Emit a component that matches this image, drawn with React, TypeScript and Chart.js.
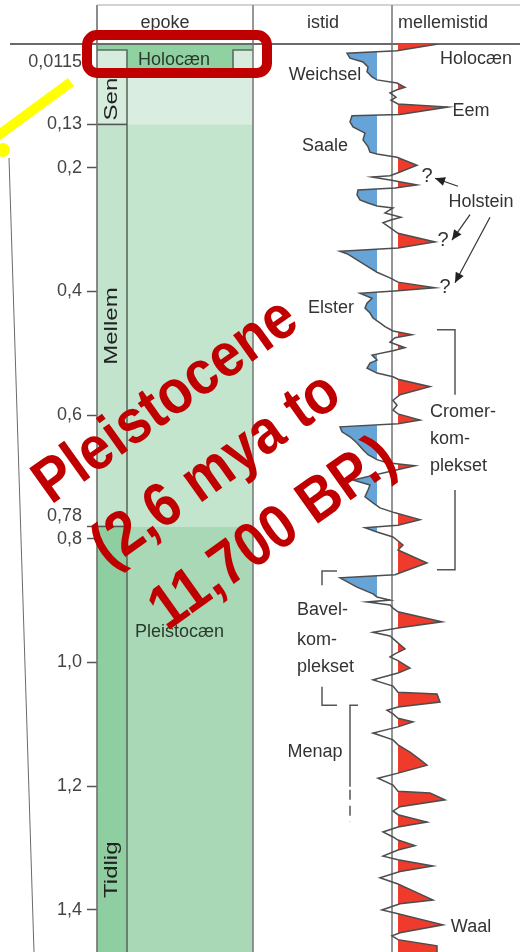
import React, { useEffect, useRef } from 'react';
import { Chart, registerables } from 'chart.js';

Chart.register(...registerables);

const FONT = '"Liberation Sans", Arial, Helvetica, sans-serif';
const OVERLAY_FONT = '"Liberation Sans", Arial, sans-serif';

// ---------------- data ----------------
// time in million years (Ma), climate index (negative = cold / istid, positive = warm / mellemistid)
const curveTime = [
  0.000, 0.011, 0.015, 0.023, 0.029, 0.037, 0.045, 0.053, 0.058, 0.063,
  0.070, 0.074, 0.079, 0.086, 0.091, 0.097, 0.102, 0.114, 0.116, 0.126,
  0.134, 0.144, 0.155, 0.166, 0.175, 0.178, 0.183, 0.196, 0.207, 0.213,
  0.215, 0.220, 0.228, 0.233, 0.236, 0.244, 0.252, 0.257, 0.262, 0.265,
  0.273, 0.280, 0.285, 0.289, 0.297, 0.306, 0.320, 0.330, 0.335, 0.339,
  0.349, 0.359, 0.369, 0.378, 0.385, 0.394, 0.399, 0.403, 0.411, 0.419,
  0.427, 0.435, 0.443, 0.451, 0.457, 0.464, 0.470, 0.475, 0.482, 0.491,
  0.496, 0.503, 0.511, 0.516, 0.524, 0.532, 0.538, 0.542, 0.554, 0.567,
  0.576, 0.584, 0.592, 0.598, 0.608, 0.614, 0.619, 0.627, 0.635, 0.645,
  0.656, 0.664, 0.672, 0.677, 0.682, 0.689, 0.705, 0.713, 0.721, 0.732,
  0.742, 0.750, 0.758, 0.769, 0.778, 0.782, 0.789, 0.797, 0.810, 0.818,
  0.839, 0.852, 0.858, 0.863, 0.878, 0.889, 0.894, 0.899, 0.902, 0.907,
  0.912, 0.918, 0.934, 0.944, 0.951, 0.957, 0.967, 0.978, 0.986, 0.991,
  0.997, 1.009, 1.017, 1.028, 1.038, 1.048, 1.051, 1.064, 1.072, 1.077,
  1.083, 1.090, 1.096, 1.104, 1.114, 1.125, 1.133, 1.145, 1.157, 1.166,
  1.178, 1.187, 1.198, 1.208, 1.211, 1.222, 1.233, 1.240, 1.246, 1.258,
  1.266, 1.274, 1.282, 1.287, 1.296, 1.303, 1.313, 1.319, 1.329, 1.338,
  1.348, 1.358, 1.372, 1.384, 1.390, 1.400, 1.406, 1.424, 1.437, 1.442,
  1.448, 1.458, 1.468,
];
const curveValue = [
  4.6, 0.5, -4.5, -4.2, -2.9, -2.4, -2.5, -2.0, -1.5, 0.5,
  1.3, 0.5, -0.2, 0.4, -0.1, 0.6, 5.6, 0.8, -4.0, -4.2,
  -3.9, -2.7, -2.9, -2.4, -2.2, -1.5, 0.5, 2.5, 0.8, -0.2,
  -2.0, -0.2, 2.5, 0.3, -3.4, -3.5, -3.2, -2.4, -1.5, 0.1,
  -0.7, 0.9, -0.2, -0.9, -0.2, 0.6, 4.3, 0.6, -5.2, -4.5,
  -3.5, -2.5, -1.5, -0.2, 0.6, 4.3, 0.6, -3.2, -2.0, -2.5,
  -2.7, -2.2, -1.9, -1.2, -0.7, 0.1, 2.0, 0.3, -0.2, 1.3,
  0.1, -2.0, -1.5, -2.2, -2.5, -1.5, 0.1, 0.6, 3.8, 0.8,
  0.1, 0.5, 0.1, 0.6, 2.8, 0.6, -5.2, -5.0, -4.2, -3.5,
  -2.9, -2.4, -1.5, -0.5, 2.3, 0.3, -3.9, -2.2, -2.4, -2.7,
  -1.9, -1.2, 0.3, 2.8, 0.6, -2.7, -1.5, 0.1, 1.1, 0.6,
  3.5, 1.3, 0.3, -5.2, -3.5, -1.9, -1.5, -0.2, -2.5, -0.2,
  0.1, 0.6, 5.0, 0.6, -1.9, -0.2, 0.5, 1.3, 0.3, -0.2,
  0.6, 1.8, 0.6, -1.9, 0.1, 0.6, 4.5, 4.8, 0.6, -0.5,
  0.1, 0.6, 2.1, 0.6, -1.9, 0.1, 0.6, 1.8, 2.8, 3.5,
  0.8, -1.4, 0.1, 0.6, 3.8, 5.3, 0.8, 0.1, 0.6, 3.5,
  0.6, -0.9, 0.1, 0.6, 2.3, 0.6, -0.9, 0.6, 4.1, 0.8,
  -1.2, 0.6, 2.5, 4.1, 0.8, -1.0, 0.6, 5.1, 0.8, 0.0,
  0.6, 4.5, 4.5,
];
const WARM_LIMIT = 0.6;
const COLD_LIMIT = -1.5;

const tickValues = [0.0115, 0.13, 0.2, 0.4, 0.6, 0.78, 0.8, 1.0, 1.2, 1.4];
const tickLabels = ['0,0115', '0,13', '0,2', '0,4', '0,6', '0,78', '0,8', '1,0', '1,2', '1,4'];

const unitNames = ['Holocæn', 'Sen', 'Mellem', 'Tidlig'];
const unitTop = [0, 0.05, 0.13, 0.78];
const unitBottom = [0.05, 0.13, 0.78, 2.58];
const subLabelTimes = [0.089, 0.456, 1.335];
const epochName = 'Pleistocæn';
const epochNameTime = 0.951;

const headerLabels = ['epoke', 'istid', 'mellemistid'];

const stageNames = ['Holocæn', 'Weichsel', 'Eem', 'Saale', 'Holstein', 'Elster', 'Menap', 'Waal'];
const stageTimes = [0.024, 0.05, 0.108, 0.165, 0.255, 0.427, 1.145, 1.427];
const questionTimes = [0.215, 0.317, 0.393];

const cromerLines = ['Cromer-', 'kom-', 'plekset'];
const cromerLineTimes = [0.595, 0.639, 0.682];
const cromerSpan = [0.462, 0.85];
const bavelLines = ['Bavel-', 'kom-', 'plekset'];
const bavelLineTimes = [0.915, 0.963, 1.007];
const bavelSpan = [0.852, 1.069];
const menapSpan = [1.069, 1.201, 1.258];

const overlayLines = ['Pleistocene', '(2,6 mya to', '11,700 BP.)'];

// ---------------- layout (positions in axis units, not data) ----------------
const L = {
  xMin: -29.5,
  xMax: 12.8,
  subCol: [-29.5, -26.5],
  epochCol: [-26.5, -13.9],
  insetRight: -15.9,
  subLabelX: -28.0,
  holoLabelX: -21.8,
  epochLabelX: -25.7,
  headerX: [-22.7, -6.9, 5.1],
  stageX: [8.4, -6.7, 7.9, -6.7, 8.9, -6.1, -7.7, 7.9],
  questionX: [3.5, 5.1, 5.3],
  arrows: [
    [6.6, 0.23, 4.3, 0.217],
    [7.8, 0.276, 6.0, 0.317],
    [9.8, 0.28, 6.3, 0.386],
  ],
  cromerTextX: 3.8,
  cromerBracket: [4.5, 6.3],
  cromerGap: [0.567, 0.721],
  bavelTextX: -9.5,
  bavelBracket: [-7.0, -5.5],
  bavelGap: [0.875, 1.039],
  menapX: [-4.2, -3.4],
};

const subFill = ['#8fd1a1', '#d6ecdc', '#c3e4cc', '#8fcea0'];
const epochFill = ['#8fd1a1', '#d9eee1', '#c3e5cd', '#a8d8b5'];

function buildClamped(limit: number, above: boolean) {
  const out: { x: number; y: number }[] = [];
  for (let i = 0; i < curveTime.length; i++) {
    const t = curveTime[i];
    const v = curveValue[i];
    if (i > 0) {
      const pt = curveTime[i - 1];
      const pv = curveValue[i - 1];
      if ((pv - limit) * (v - limit) < 0) {
        const f = (limit - pv) / (v - pv);
        out.push({ x: limit, y: pt + f * (t - pt) });
      }
    }
    out.push({ x: above ? Math.max(v, limit) : Math.min(v, limit), y: t });
  }
  return out;
}

function stroke(ctx: CanvasRenderingContext2D, pts: number[][], color: string, width: number, dash?: number[]) {
  ctx.save();
  ctx.strokeStyle = color;
  ctx.lineWidth = width;
  if (dash) ctx.setLineDash(dash);
  ctx.beginPath();
  pts.forEach((p, i) => (i ? ctx.lineTo(p[0], p[1]) : ctx.moveTo(p[0], p[1])));
  ctx.stroke();
  ctx.restore();
}

function text(ctx: CanvasRenderingContext2D, s: string, x: number, y: number, size = 18, align: CanvasTextAlign = 'center', color = '#333') {
  ctx.save();
  ctx.font = `${size}px ${FONT}`;
  ctx.fillStyle = color;
  ctx.textAlign = align;
  ctx.textBaseline = 'middle';
  ctx.fillText(s, x, y);
  ctx.restore();
}

function arrow(ctx: CanvasRenderingContext2D, x1: number, y1: number, x2: number, y2: number) {
  stroke(ctx, [[x1, y1], [x2, y2]], '#333', 1.2);
  const a = Math.atan2(y2 - y1, x2 - x1);
  const len = 10;
  const half = 4.5;
  ctx.save();
  ctx.fillStyle = '#222';
  ctx.beginPath();
  ctx.moveTo(x2, y2);
  ctx.lineTo(x2 - len * Math.cos(a) + half * Math.sin(a), y2 - len * Math.sin(a) - half * Math.cos(a));
  ctx.lineTo(x2 - len * Math.cos(a) - half * Math.sin(a), y2 - len * Math.sin(a) + half * Math.cos(a));
  ctx.closePath();
  ctx.fill();
  ctx.restore();
}

const geoPlugin = {
  id: 'geoColumns',
  beforeDatasetsDraw(chart: any) {
    const { ctx, chartArea: a } = chart;
    const xs = chart.scales.x;
    const ys = chart.scales.y;
    const X = (v: number) => xs.getPixelForValue(v);
    const Y = (t: number) => Math.min(ys.getPixelForValue(t), a.bottom);
    const headTop = a.top - 39;
    const sx0 = X(L.subCol[0]);
    const sx1 = X(L.subCol[1]);
    const ex1 = X(L.epochCol[1]);

    for (let i = 1; i < unitNames.length; i++) {
      const y1 = Y(unitTop[i]);
      const y2 = Y(unitBottom[i]);
      ctx.fillStyle = subFill[i];
      ctx.fillRect(sx0, y1, sx1 - sx0, y2 - y1);
      ctx.fillStyle = epochFill[i];
      ctx.fillRect(sx1, y1, ex1 - sx1, y2 - y1);
    }
    for (let i = 1; i < unitNames.length; i++) {
      ctx.save();
      ctx.translate(X(L.subLabelX), Y(subLabelTimes[i - 1]));
      ctx.rotate(-Math.PI / 2);
      ctx.scale(1, 0.78);
      ctx.font = `24px ${FONT}`;
      ctx.fillStyle = '#222';
      ctx.textAlign = 'center';
      ctx.textBaseline = 'middle';
      ctx.fillText(unitNames[i], 0, 0);
      ctx.restore();
    }
    // Holocene row
    const h1 = Y(unitTop[0]);
    const h2 = Y(unitBottom[0]);
    ctx.fillStyle = epochFill[0];
    ctx.fillRect(sx0, h1, ex1 - sx0, h2 - h1);
    const inTop = h1 + 6;
    const ir = X(L.insetRight);
    ctx.fillStyle = subFill[1];
    ctx.fillRect(sx0, inTop, sx1 - sx0, h2 - inTop);
    ctx.fillRect(ir, inTop, ex1 - ir, h2 - inTop);
    stroke(ctx, [[sx0, inTop], [sx1, inTop], [sx1, a.bottom]], '#5d6b60', 1.6);
    stroke(ctx, [[ex1, inTop], [ir, inTop], [ir, h2]], '#5d6b60', 1.6);
    text(ctx, unitNames[0], X(L.holoLabelX), Y(0.026), 18, 'center', '#2b3a2e');
    text(ctx, epochName, X(L.epochLabelX), Y(epochNameTime), 18, 'left', '#2b3a2e');

    // sub-epoch boundaries
    stroke(ctx, [[sx0, Y(unitTop[2])], [sx1, Y(unitTop[2])]], '#555', 1.6);
    stroke(ctx, [[sx0, Y(unitTop[3])], [sx1, Y(unitTop[3])]], '#555', 1.6);

    // column lines
    const zx = X(0);
    stroke(ctx, [[sx0, headTop], [sx0, a.bottom]], '#6f6f6f', 1.6);
    stroke(ctx, [[ex1, headTop], [ex1, a.bottom]], '#7c7c7c', 1.6);
    stroke(ctx, [[zx, headTop], [zx, a.bottom]], '#505050', 1.2);
    // header
    stroke(ctx, [[sx0, headTop], [a.right, headTop]], '#a8a8a8', 1.2);
    stroke(ctx, [[10, a.top], [a.right, a.top]], '#6a6a6a', 2);
    headerLabels.forEach((h, i) => text(ctx, h, X(L.headerX[i]), a.top - 21, 18, 'center', '#333'));
  },
  afterDatasetsDraw(chart: any) {
    const { ctx } = chart;
    const xs = chart.scales.x;
    const ys = chart.scales.y;
    const X = (v: number) => xs.getPixelForValue(v);
    const Y = (t: number) => ys.getPixelForValue(t);

    stageNames.forEach((s, i) => text(ctx, s, X(L.stageX[i]), Y(stageTimes[i])));
    questionTimes.forEach((t, i) => text(ctx, '?', X(L.questionX[i]), Y(t), 20));
    L.arrows.forEach((ar) => arrow(ctx, X(ar[0]), Y(ar[1]), X(ar[2]), Y(ar[3])));

    // Cromer bracket
    const c0 = X(L.cromerBracket[0]);
    const c1 = X(L.cromerBracket[1]);
    stroke(ctx, [[c0, Y(cromerSpan[0])], [c1, Y(cromerSpan[0])], [c1, Y(L.cromerGap[0])]], '#555', 1.5);
    stroke(ctx, [[c1, Y(L.cromerGap[1])], [c1, Y(cromerSpan[1])], [c0, Y(cromerSpan[1])]], '#555', 1.5);
    cromerLines.forEach((s, i) => text(ctx, s, X(L.cromerTextX), Y(cromerLineTimes[i]), 18, 'left'));

    // Bavel bracket
    const b0 = X(L.bavelBracket[0]);
    const b1 = X(L.bavelBracket[1]);
    stroke(ctx, [[b1, Y(bavelSpan[0])], [b0, Y(bavelSpan[0])], [b0, Y(L.bavelGap[0])]], '#555', 1.5);
    stroke(ctx, [[b0, Y(L.bavelGap[1])], [b0, Y(bavelSpan[1])], [b1, Y(bavelSpan[1])]], '#555', 1.5);
    bavelLines.forEach((s, i) => text(ctx, s, X(L.bavelTextX), Y(bavelLineTimes[i]), 18, 'left'));

    // Menap
    const m0 = X(L.menapX[0]);
    const m1 = X(L.menapX[1]);
    stroke(ctx, [[m1, Y(menapSpan[0])], [m0, Y(menapSpan[0])], [m0, Y(menapSpan[1])]], '#555', 1.5);
    stroke(ctx, [[m0, Y(menapSpan[1]) + 3], [m0, Y(menapSpan[2])]], '#555', 1.5, [10, 6]);
  },
  afterDraw(chart: any) {
    const { ctx } = chart;
    // thin projection line on the left
    stroke(ctx, [[9, 158], [22, 570], [34, 952]], '#6a6a6a', 1);
    // yellow pointer
    ctx.save();
    ctx.strokeStyle = '#ffff00';
    ctx.lineWidth = 10;
    ctx.beginPath();
    ctx.moveTo(-8, 140);
    ctx.lineTo(71, 82);
    ctx.stroke();
    ctx.fillStyle = '#ffff00';
    ctx.beginPath();
    ctx.arc(3, 150, 7, 0, Math.PI * 2);
    ctx.fill();
    ctx.restore();
    // red frame around Holocene
    ctx.save();
    ctx.strokeStyle = '#c00000';
    ctx.lineWidth = 10;
    ctx.beginPath();
    (ctx as any).roundRect(87, 35, 180, 38, 10);
    ctx.stroke();
    ctx.restore();
    // red overlay text
    ctx.save();
    ctx.fillStyle = '#c00000';
    ctx.font = `bold 62px ${OVERLAY_FONT}`;
    const w = ctx.measureText(overlayLines[0]).width;
    const sx = 308 / w;
    ctx.textAlign = 'center';
    ctx.textBaseline = 'alphabetic';
    ctx.rotate((-35.5 * Math.PI) / 180);
    ctx.scale(sx, 1);
    const cu = [-98, -97, -88];
    const cn = [441, 526, 611];
    overlayLines.forEach((s, i) => ctx.fillText(s, cu[i] / sx, cn[i]));
    ctx.restore();
  },
};

export default function App() {
  const ref = useRef<HTMLCanvasElement | null>(null);
  useEffect(() => {
    if (!ref.current) return;
    Chart.defaults.font.family = FONT;
    const lineData = curveTime.map((t, i) => ({ x: curveValue[i], y: t }));
    const chart = new Chart(ref.current, {
      type: 'line',
      data: {
        datasets: [
          {
            label: 'klima',
            data: lineData,
            borderColor: '#4d4d4d',
            borderWidth: 1.5,
            pointRadius: 0,
            fill: false,
            tension: 0,
          },
          {
            label: 'mellemistid',
            data: buildClamped(WARM_LIMIT, true),
            borderColor: 'rgba(0,0,0,0)',
            borderWidth: 1,
            pointRadius: 0,
            backgroundColor: '#ef3b2c',
            fill: { target: { value: WARM_LIMIT } },
            tension: 0,
          },
          {
            label: 'istid',
            data: buildClamped(COLD_LIMIT, false),
            borderColor: 'rgba(0,0,0,0)',
            borderWidth: 1,
            pointRadius: 0,
            backgroundColor: '#66a3d6',
            fill: { target: { value: COLD_LIMIT } },
            tension: 0,
          },
        ],
      } as any,
      options: {
        responsive: false,
        animation: false,
        indexAxis: 'y',
        layout: { padding: { top: 44, left: 0, right: 0, bottom: 0 } },
        plugins: {
          legend: { display: false },
          tooltip: { enabled: false },
        },
        scales: {
          x: { type: 'linear', display: false, min: L.xMin, max: L.xMax },
          y: {
            type: 'linear',
            position: 'left',
            reverse: true,
            min: 0,
            max: 1.468,
            afterBuildTicks: (s: any) => {
              s.ticks = tickValues.map((v) => ({ value: v }));
            },
            afterFit: (s: any) => {
              s.width = 97;
              s.paddingTop = 0;
              s.paddingBottom = 0;
            },
            ticks: {
              autoSkip: false,
              padding: 5,
              color: '#444',
              font: { size: 18, family: FONT },
              callback: (_v: any, i: number) => {
                const lbl = tickLabels[i];
                if (i === 0) return ['', lbl];
                if (tickValues[i] === 0.78) return [lbl, ''];
                return lbl;
              },
            },
            grid: {
              drawOnChartArea: false,
              drawTicks: true,
              tickLength: 10,
              tickWidth: 1.5,
              tickColor: (c: any) => (c.index === 0 ? 'rgba(0,0,0,0)' : '#555'),
            },
            border: { display: false },
          },
        },
      } as any,
      plugins: [geoPlugin],
    });
    return () => chart.destroy();
  }, []);
  return (
    <div style={{ position: 'absolute', left: 0, top: 0, width: 520, height: 952 }}>
      <canvas ref={ref} width={520} height={952} style={{ display: 'block' }} />
    </div>
  );
}
